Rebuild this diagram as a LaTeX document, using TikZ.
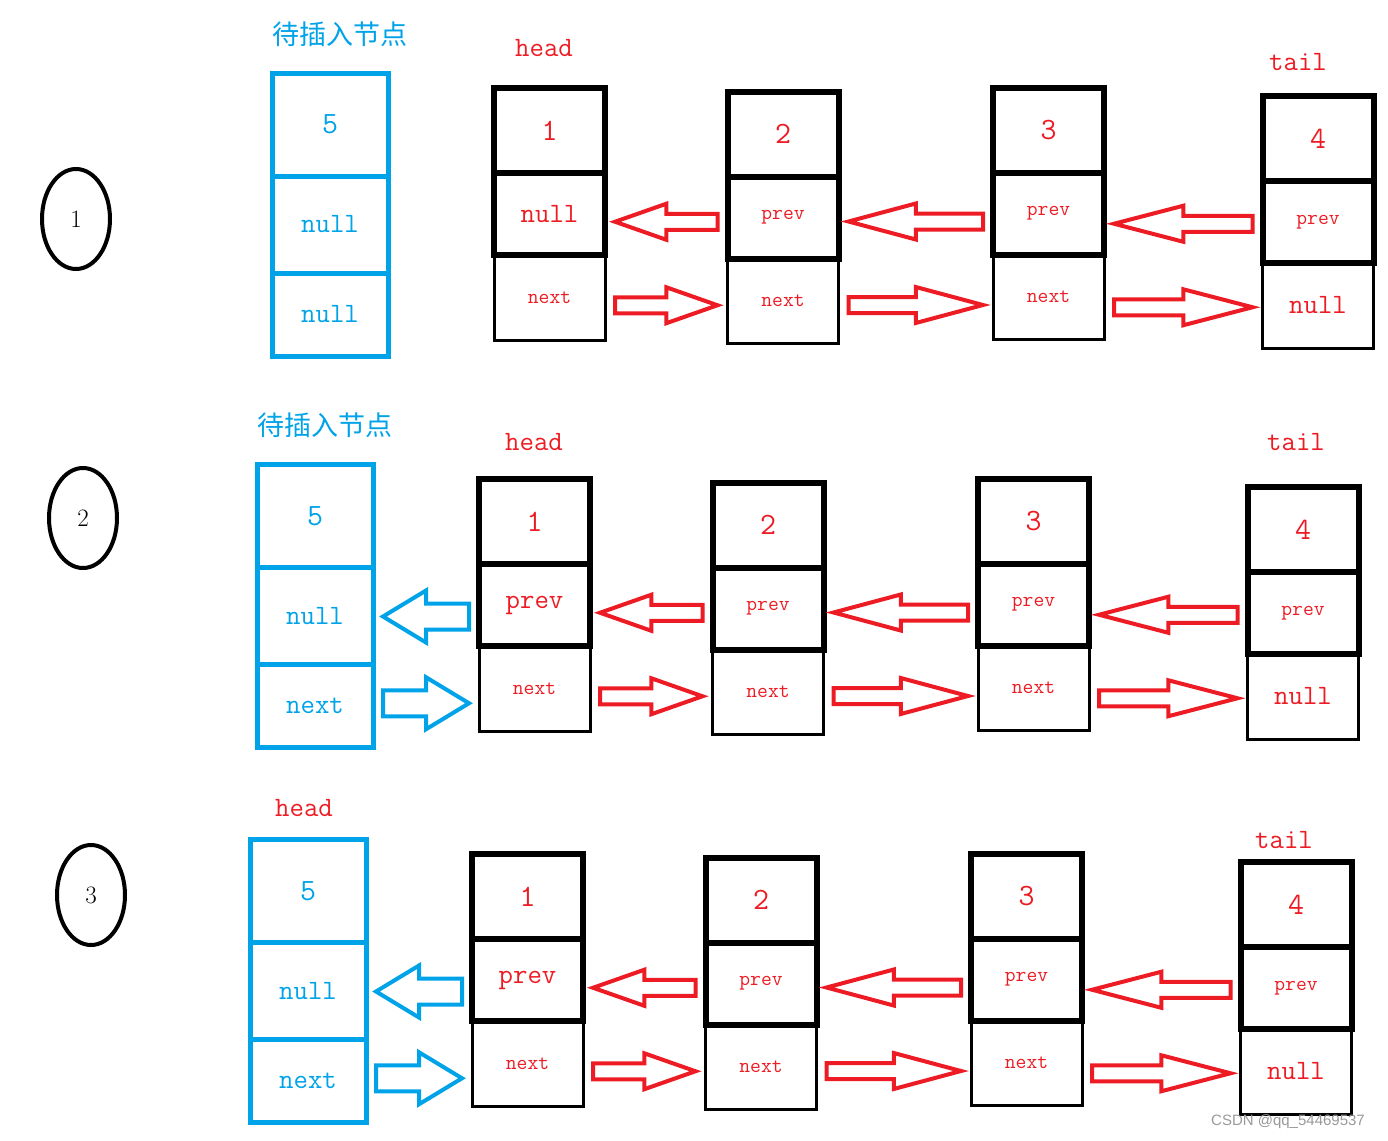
\documentclass[tikz,border=0pt]{standalone}
\usepackage{fontspec}
\usepackage{tikz}
\usetikzlibrary{
    shapes,
    shapes.geometric,
    positioning,
    calc
}
\setsansfont{Liberation Sans}
\newfontfamily\cjk{Noto Sans CJK SC}
\definecolor{arrowred}{RGB}{237,28,36}
\definecolor{newblue}{RGB}{0,162,232}
\tikzset{
  cell/.style = {
      draw,
      rectangle,
      minimum width=111pt,
      inner sep=0pt,
      outer sep=0pt,
      text=arrowred,
      font=\fontsize{28}{28}\ttfamily
  },
  topcell/.style = {
      cell,
      line width=6pt,
      minimum height=85pt,
      font=\fontsize{31}{31}\ttfamily
  },
  midcell/.style = {
      cell,
      line width=6pt,
      minimum height=82pt
  },
  botcell/.style = {
      cell,
      line width=3pt,
      minimum height=85pt
  },
  smalltext/.style = {
      font=\fontsize{21}{21}\ttfamily
  },
  bluecell/.style = {
      cell,
      draw=newblue,
      text=newblue,
      line width=5pt,
      minimum width=116pt
  },
  reftag/.style = {
      text=arrowred,
      font=\fontsize{28}{28}\ttfamily
  },
  newtag/.style = {
      text=newblue,
      font=\fontsize{27}{27}\cjk
  },
  rowmark/.style = {
      draw,
      ellipse,
      line width=4pt,
      minimum width=68pt,
      minimum height=100pt,
      font=\fontsize{25}{25}\selectfont
  },
  blockline/.style = {
      draw=arrowred,
      line width=4pt,
      line join=miter
  }
}
% hollow block arrow between two anchors
\def\shafthalf{8}
\def\headhalf{18}
\newcommand{\blockarrow}[3][]{%
  \coordinate (bam) at ($(#2)!0.5!(#3)+(0,6)$);
  \coordinate (bas) at ($(#2 |- bam)!10pt!(#3 |- bam)$);
  \coordinate (bat) at ($(#3 |- bam)!10pt!(#2 |- bam)$);
  \coordinate (bah) at ($(bas)!0.5!(bat)$);
  \draw[blockline,#1] ($(bas)+(0,-\shafthalf)$) -- ($(bah)+(0,-\shafthalf)$)
    -- ($(bah)+(0,-\headhalf)$) -- (bat) -- ($(bah)+(0,\headhalf)$)
    -- ($(bah)+(0,\shafthalf)$) -- ($(bas)+(0,\shafthalf)$) -- cycle;
}

\begin{document}
\begin{tikzpicture}[x=1pt, y=-1pt]
    \useasboundingbox (0,0) rectangle (1388,1140);
    % Row marks
    \node[rowmark] (mark1) at (76,219) {1};
    \node[rowmark] (mark2) at (83,518) {2};
    \node[rowmark] (mark3) at (91,895) {3};
    % List nodes
    \foreach \r/\dx/\dy/\midtext in {1/0/0/null,2/-15/391/prev,3/-22/766/prev}{
        \node[topcell] (d1\r) at (549.5+\dx,130.5+\dy) {1};
        \node[midcell, below=0pt of d1\r] (p1\r) {\midtext};
        \node[botcell, smalltext, below=0pt of p1\r] (x1\r) {next};
        \foreach \k/\cx/\cy/\last/\fs in {2/783/134/next/21,3/1048.5/130/next/21,4/1318/138.5/null/28}{
            \node[topcell] (d\k\r) at (\cx+\dx,\cy+\dy) {\k};
            \node[midcell, smalltext, below=0pt of d\k\r] (p\k\r) {prev};
            \node[botcell, font=\fontsize{\fs}{\fs}\ttfamily, below=0pt of p\k\r] (x\k\r) {\last};
        }
        % Links
        \foreach \j/\k in {1/2,2/3,3/4}{
            \blockarrow{p\k\r.west}{p\j\r.east}
            \blockarrow{x\j\r.east}{x\k\r.west}
        }
    }
    % Node to insert
    \foreach \r/\cx/\cy/\last in {1/330/124.5/null,2/315/516/next,3/308/891/next}{
        \node[bluecell, minimum height=103pt, font=\fontsize{31}{31}\ttfamily] (bd\r) at (\cx,\cy) {5};
        \node[bluecell, minimum height=97pt, below=0pt of bd\r] (bp\r) {null};
        \node[bluecell, minimum height=83pt, below=0pt of bp\r] (bx\r) {\last};
    }
    \foreach \r in {2,3}{
        \def\shafthalf{13}
        \def\headhalf{26}
        \blockarrow[draw=newblue]{p1\r.west}{bp\r.east}
        \blockarrow[draw=newblue]{bx\r.east}{x1\r.west}
    }
    % Labels
    \node[newtag] (new1) at (340,34) {待插入节点};
    \node[newtag] (new2) at (325,425) {待插入节点};
    \node[reftag] (head1) at (544,48) {head};
    \node[reftag] (head2) at (534,442) {head};
    \node[reftag] (head3) at (304,808) {head};
    \node[reftag] (tail1) at (1298,62) {tail};
    \node[reftag] (tail2) at (1296,442) {tail};
    \node[reftag] (tail3) at (1284,840) {tail};
    \node[text=black!40, font=\fontsize{15}{15}\sffamily] (credit) at (1288,1122) {CSDN @qq\_54469537};
\end{tikzpicture}
\end{document}
